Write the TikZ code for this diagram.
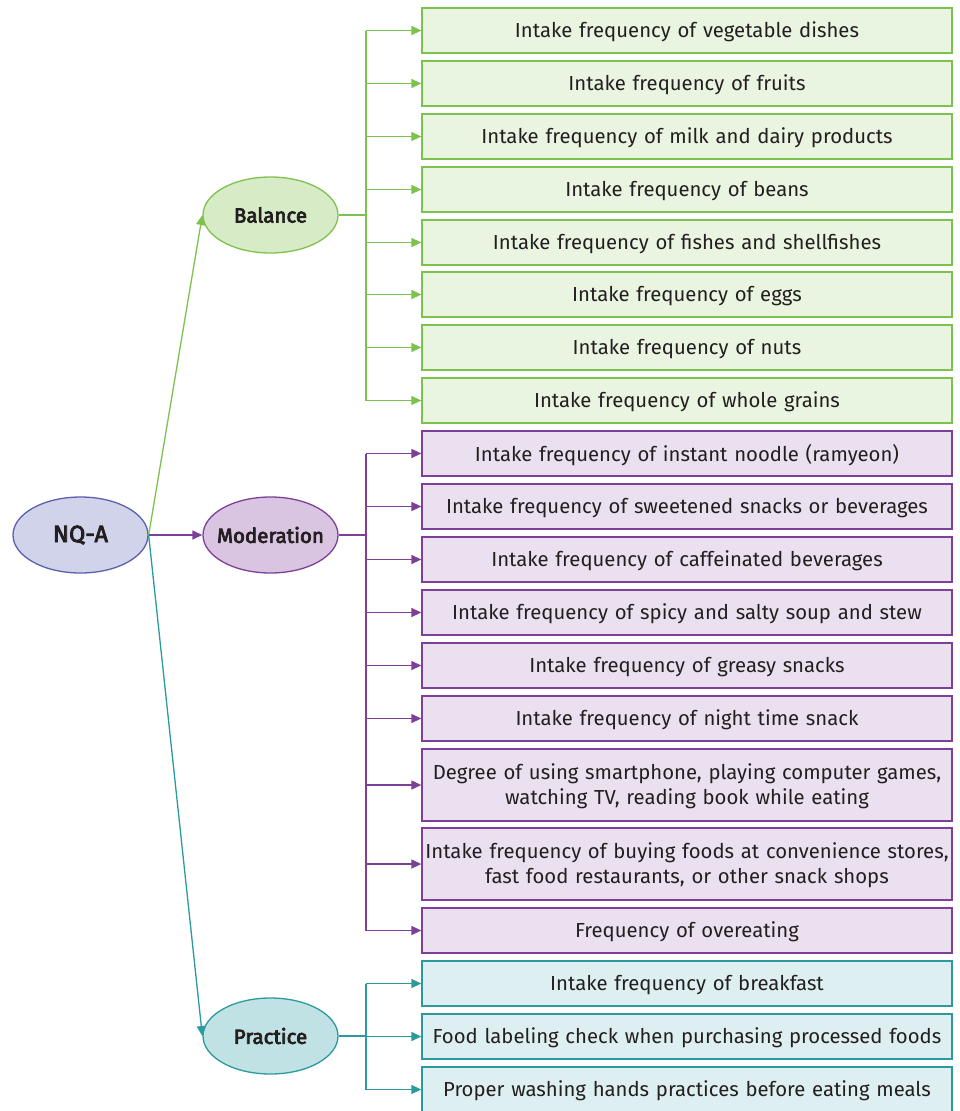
\documentclass[tikz,border=0pt]{standalone}
\usepackage{fontspec}
\setmainfont{Fira Sans}
\newfontfamily\medf[FakeBold=3.5]{Fira Sans}
\usetikzlibrary{arrows.meta,shapes.geometric}
\definecolor{gS}{HTML}{7DC24E}
\definecolor{gE}{HTML}{D6EBC6}
\definecolor{gB}{HTML}{E9F4E1}
\definecolor{pS}{HTML}{7E3F98}
\definecolor{pE}{HTML}{D9C4E2}
\definecolor{pB}{HTML}{EAE0EF}
\definecolor{tS}{HTML}{2A9A9F}
\definecolor{tE}{HTML}{C1E2E4}
\definecolor{tB}{HTML}{DDEFF0}
\definecolor{nS}{HTML}{5C5FAE}
\definecolor{nE}{HTML}{D1D3EA}
\definecolor{txt}{HTML}{231F20}
\begin{document}
\begin{tikzpicture}[x=1pt,y=-1pt,
  every node/.style={text=txt},
  boxst/.style={rectangle,draw,line width=1.3pt,minimum width=530pt,minimum height=45pt,inner sep=0pt},
  boxtext/.style={inner sep=0pt,text width=524pt,align=center,font=\fontsize{20.3}{25}\selectfont},
  ellst/.style={ellipse,draw,line width=1.3pt,minimum width=135pt,minimum height=76pt,inner sep=0pt,font=\fontsize{20.5}{24}\selectfont\medf},
  con/.style={line width=1.3pt},
  arr/.style={line width=1.3pt,-{Triangle[length=10pt,width=9pt]}}
]
\useasboundingbox (0,0) rectangle (960,1111);
% root and categories
\node[ellst,draw=nS,fill=nE,font=\fontsize{23.5}{28}\selectfont\medf] (root) at (80.5,535) {\makebox[0pt]{NQ-A}};
\node[ellst,draw=gS,fill=gE] (bal) at (270.5,215) {\makebox[0pt]{Balance}};
\node[ellst,draw=pS,fill=pE] (mod) at (270.5,535) {\makebox[0pt]{Moderation}};
\node[ellst,draw=tS,fill=tE] (pra) at (270.5,1036) {\makebox[0pt]{Practice}};
\draw[arr,gS] (root.east) -- (bal.west);
\draw[arr,pS] (root.east) -- (mod.west);
\draw[arr,tS] (root.east) -- (pra.west);
% trunks
\coordinate (bt) at (366,215);
\coordinate (mt) at (366,535);
\coordinate (pt) at (366,1036);
% balance boxes
\foreach \i/\y/\t in {1/30.5/{Intake frequency of vegetable dishes},
  2/83.5/{Intake frequency of fruits},
  3/136.5/{Intake frequency of milk and dairy products},
  4/189.5/{Intake frequency of beans},
  5/242.5/{Intake frequency of fishes and shellfishes},
  6/294.5/{Intake frequency of eggs},
  7/347.5/{Intake frequency of nuts},
  8/400.5/{Intake frequency of whole grains}}{
  \node[boxst,draw=gS,fill=gB] (b\i) at (687,\y) {};
  \node[boxtext] (bt\i) at ([yshift=-1.5pt]b\i.center) {\t};
  \draw[arr,gS] (b\i.west -| bt) -- (b\i.west);
}
\draw[con,gS] (bal.east) -- (bt);
\draw[con,gS] (b1.west -| bt) -- (b8.west -| bt);
% moderation boxes
\foreach \i/\y/\h/\t in {1/453.5/45/{Intake frequency of instant noodle (ramyeon)},
  2/506.5/45/{Intake frequency of sweetened snacks or beverages},
  3/559.5/45/{Intake frequency of caffeinated beverages},
  4/612.5/45/{Intake frequency of spicy and salty soup and stew},
  5/665.5/45/{Intake frequency of greasy snacks},
  6/718.5/45/{Intake frequency of night time snack},
  7/785/72/{Degree of using smartphone, playing computer games,\\ watching TV, reading book while eating},
  8/864/72/{Intake frequency of buying foods at convenience stores,\\ fast food restaurants, or other snack shops},
  9/930.5/45/{Frequency of overeating}}{
  \node[boxst,draw=pS,fill=pB,minimum height=\h pt] (m\i) at (687,\y) {};
  \node[boxtext] (mt\i) at ([yshift=-1.5pt]m\i.center) {\t};
  \draw[arr,pS] (m\i.west -| mt) -- (m\i.west);
}
\draw[con,pS] (mod.east) -- (mt);
\draw[con,pS] (m1.west -| mt) -- (m9.west -| mt);
% practice boxes
\foreach \i/\y/\t in {1/983.5/{Intake frequency of breakfast},
  2/1036.5/{Food labeling check when purchasing processed foods},
  3/1089.5/{Proper washing hands practices before eating meals}}{
  \node[boxst,draw=tS,fill=tB] (p\i) at (687,\y) {};
  \node[boxtext] (pt\i) at ([yshift=-1.5pt]p\i.center) {\t};
  \draw[arr,tS] (p\i.west -| pt) -- (p\i.west);
}
\draw[con,tS] (pra.east) -- (pt);
\draw[con,tS] (p1.west -| pt) -- (p3.west -| pt);
\end{tikzpicture}
\end{document}
